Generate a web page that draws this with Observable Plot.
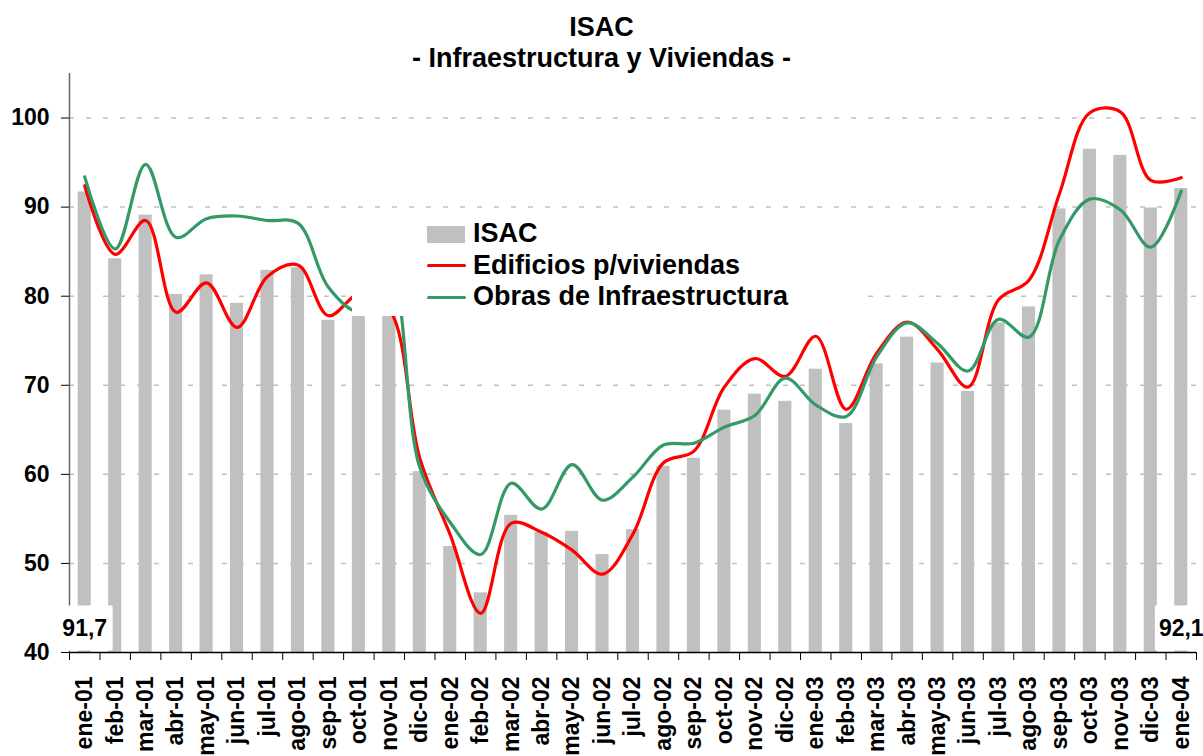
<!DOCTYPE html>
<html>
<head>
<meta charset="utf-8">
<script src="https://cdn.jsdelivr.net/npm/d3@7"></script>
<script src="https://cdn.jsdelivr.net/npm/@observablehq/plot@0.6"></script>
<style>
  body { margin: 0; background: #fff; font-family: "Liberation Sans", Arial, sans-serif; }
  #wrap { position: relative; width: 1203px; height: 756px; overflow: hidden; background: #fff; }
  #title { position: relative; z-index: 2; height: 60px; padding-top: 12px; box-sizing: border-box;
           text-align: center; font-weight: bold; font-size: 27px; line-height: 30.5px; color: #000; }
  #legend { position: absolute; z-index: 3; left: 352px; top: 213px; width: 508px; height: 103px; background: #fff; }
  #legend .txt { position: absolute; left: 121px; font-size: 27px; line-height: 27px; font-weight: bold; color: #000; white-space: nowrap; }
  #legend .box { position: absolute; left: 75px; width: 38px; height: 17px; }
  #legend .ln { position: absolute; left: 75px; width: 39px; height: 3px; border-radius: 2px; }
</style>
</head>
<body>
<div id="wrap">
  <div id="title">ISAC<br>- Infraestructura y Viviendas -</div>
  <div id="chart"></div>
  <div id="legend"></div>
</div>
<script>
// ---- data ----
const meses = ["ene-01","feb-01","mar-01","abr-01","may-01","jun-01","jul-01","ago-01","sep-01","oct-01","nov-01","dic-01",
               "ene-02","feb-02","mar-02","abr-02","may-02","jun-02","jul-02","ago-02","sep-02","oct-02","nov-02","dic-02",
               "ene-03","feb-03","mar-03","abr-03","may-03","jun-03","jul-03","ago-03","sep-03","oct-03","nov-03","dic-03",
               "ene-04"];
const isac = [91.7, 84.2, 89.1, 80.2, 82.4, 79.2, 82.9, 83.2, 77.3, 77.8, 77.8, 60.3,
              51.9, 46.7, 55.4, 53.5, 53.6, 51.0, 53.8, 60.9, 61.8, 67.2, 69.0, 68.2,
              71.8, 65.7, 72.4, 75.4, 72.5, 69.3, 77.0, 78.8, 89.8, 96.5, 95.8, 89.9,
              92.1];
const edificios = [92.4, 84.7, 88.5, 78.2, 81.5, 76.5, 82.2, 83.5, 77.8, 80.2, 78.5, 61.8,
                   53.2, 44.4, 54.5, 53.5, 51.5, 48.8, 53.3, 61.3, 62.6, 69.8, 73.0, 71.0,
                   75.5, 67.3, 73.6, 77.1, 74.0, 69.8, 79.6, 81.8, 91.5, 100.6, 100.7, 93.0,
                   93.3];
const obras = [93.4, 85.3, 94.8, 86.6, 88.7, 89.0, 88.5, 88.2, 81.0, 78.3, 83.0, 60.8,
               54.6, 51.0, 59.0, 56.1, 61.1, 57.1, 59.7, 63.3, 63.5, 65.3, 66.6, 70.8,
               67.8, 66.5, 73.2, 77.0, 74.7, 71.6, 77.4, 75.4, 86.3, 90.9, 89.7, 85.5,
               91.8];
const yTicks = [40, 50, 60, 70, 80, 90, 100];
const yDomain = [40, 105];
const seriesNames = ["ISAC", "Edificios p/viviendas", "Obras de Infraestructura"];
const colors = ["#c0c0c0", "#ff0000", "#339966"];

// ---- table ----
const data = meses.map((m, i) => ({mes: m, isac: isac[i], edif: edificios[i], obras: obras[i]}));
const last = meses.length - 1;
const labels = [
  {mes: meses[0], v: isac[0]},
  {mes: meses[last], v: isac[last]}
];
const fmt = v => v.toFixed(1).replace(".", ",");

const W = 1203, H = 696, mL = 69, mR = 7, mT = 13, mB = 104;
const step = (W - mL - mR) / meses.length;

const chart = Plot.plot({
  width: W, height: H,
  marginLeft: mL, marginRight: mR, marginTop: mT, marginBottom: mB,
  style: {fontFamily: "'Liberation Sans', Arial, sans-serif", fontWeight: "bold", fontSize: "23px",
          background: "transparent", color: "#000"},
  x: {domain: meses, paddingInner: 0.57, paddingOuter: 0.285, round: false, label: null},
  y: {domain: yDomain, label: null},
  marks: [
    Plot.ruleY(yTicks.filter(v => v > yDomain[0]), {stroke: "#c0c0c0", strokeWidth: 1.5, strokeDasharray: "5,12"}),
    Plot.barY(data, {x: "mes", y1: yDomain[0], y2: "isac", fill: colors[0]}),
    Plot.line(data, {x: "mes", y: "edif", stroke: colors[1], strokeWidth: 3.2, curve: "catmull-rom"}),
    Plot.line(data, {x: "mes", y: "obras", stroke: colors[2], strokeWidth: 3.2, curve: "catmull-rom"}),
    Plot.ruleY([yDomain[0]], {stroke: "#000", strokeWidth: 1.5}),
    Plot.ruleX([meses[0]], {y1: yDomain[0], y2: yDomain[1], dx: -step / 2, stroke: "#666", strokeWidth: 1.5}),
    Plot.axisY({ticks: yTicks, tickSize: 8, tickPadding: 12, fontSize: 23, fontWeight: "bold", tickFormat: d => String(d)}),
    Plot.axisX({tickSize: 8, tickFormat: () => "", dx: -step / 2}),
    Plot.axisX({ticks: [meses[last]], tickSize: 8, tickFormat: () => "", dx: step / 2}),
    Plot.axisX({tickSize: 0, tickPadding: 24, tickRotate: -90, fontSize: 23, fontWeight: "bold"}),
    Plot.text(labels, {x: "mes", y: yDomain[0], text: d => fmt(d.v), dy: -17, lineAnchor: "bottom",
                       fontSize: 23, fontWeight: "bold", fill: "#000", className: "vlabel"})
  ]
});
document.getElementById("chart").appendChild(chart);

// white boxes behind the value labels
chart.querySelectorAll(".vlabel text").forEach(t => {
  const b = t.getBBox();
  const r = document.createElementNS("http://www.w3.org/2000/svg", "rect");
  r.setAttribute("x", b.x - 4);
  r.setAttribute("y", b.y - 9);
  r.setAttribute("width", b.width + 9.5);
  r.setAttribute("height", b.height + 19);
  r.setAttribute("fill", "#fff");
  const tr = t.getAttribute("transform");
  if (tr) r.setAttribute("transform", tr);
  t.parentNode.insertBefore(r, t);
});

// legend
const lg = document.getElementById("legend");
const tops = [7, 38.6, 70.2];
const marks = [13, 50.5, 82.5];
seriesNames.forEach((name, i) => {
  const s = document.createElement("div");
  if (i === 0) { s.className = "box"; s.style.top = marks[i] + "px"; }
  else { s.className = "ln"; s.style.top = marks[i] + "px"; }
  s.style.background = colors[i];
  lg.appendChild(s);
  const t = document.createElement("div");
  t.className = "txt";
  t.style.top = tops[i] + "px";
  t.textContent = name;
  lg.appendChild(t);
});
</script>
</body>
</html>
